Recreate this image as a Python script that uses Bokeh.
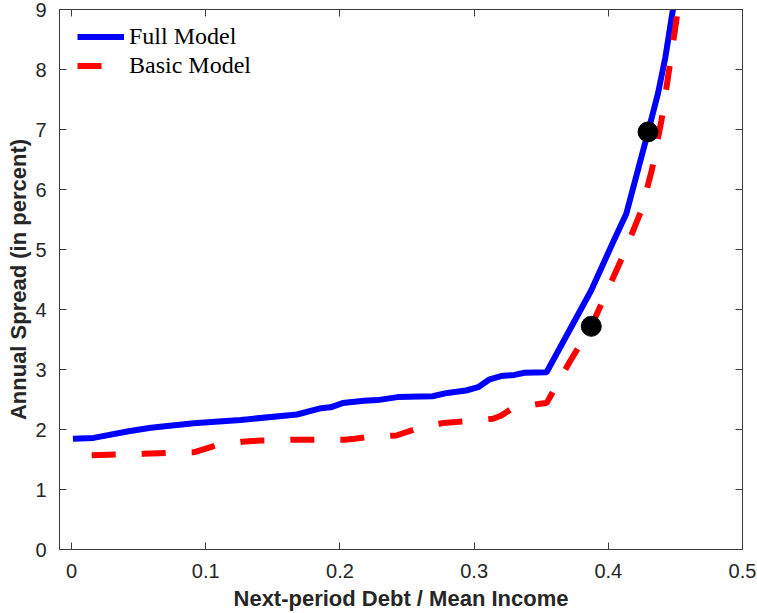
from bokeh.plotting import figure
from bokeh.models import (LinearAxis, FixedTicker, Range1d, Legend, LegendItem,
                          ColumnDataSource)
from bokeh.embed import file_html
from bokeh.resources import INLINE

# Spread schedules against next-period debt / mean income
full_debt = [0.001, 0.0164, 0.0425, 0.059, 0.091, 0.126, 0.168, 0.186, 0.193,
             0.202, 0.218, 0.228, 0.243, 0.269, 0.280, 0.294, 0.303, 0.311,
             0.320, 0.330, 0.3375, 0.354, 0.3873, 0.4035, 0.4134, 0.4296,
             0.437, 0.4425, 0.448, 0.452]
full_spread = [1.845, 1.86, 1.97, 2.03, 2.105, 2.16, 2.25, 2.355, 2.37,
               2.44, 2.48, 2.49, 2.54, 2.555, 2.61, 2.65, 2.705, 2.83,
               2.89, 2.91, 2.945, 2.955, 4.32, 5.12, 5.595, 6.96,
               7.6, 8.2, 8.98, 9.6]

basic_debt = [0.015, 0.033, 0.053, 0.071, 0.091, 0.1075, 0.127, 0.141, 0.165,
              0.203, 0.211, 0.219, 0.242, 0.257, 0.277, 0.294, 0.314, 0.320,
              0.329, 0.349, 0.354, 0.371, 0.3873, 0.396, 0.411, 0.4246,
              0.4325, 0.4396, 0.445, 0.4507, 0.454]
basic_spread = [1.572, 1.583, 1.594, 1.61, 1.62, 1.733, 1.795, 1.817, 1.83,
                1.83, 1.845, 1.87, 1.90, 2.01, 2.11, 2.14, 2.18, 2.23,
                2.36, 2.43, 2.44, 3.12, 3.72, 4.15, 4.9, 5.65,
                6.33, 7.15, 7.95, 8.82, 9.4]

# Highlighted points
dot_debt = [0.3873, 0.4296]
dot_spread = [3.72, 6.96]

x_ticks = [0, 0.1, 0.2, 0.3, 0.4, 0.5]
x_tick_labels = ["0", "0.1", "0.2", "0.3", "0.4", "0.5"]
y_ticks = [0, 1, 2, 3, 4, 5, 6, 7, 8, 9]

AXIS_COLOR = "#3a3a3a"
TICK_FONT = "Liberation Sans"

p = figure(width=757, height=613, output_backend="svg", toolbar_location=None,
           x_range=Range1d(-0.009, 0.5), y_range=Range1d(0, 9),
           min_border_left=59, min_border_right=15, min_border_top=9,
           min_border_bottom=64, x_axis_location=None, y_axis_location=None)
p.grid.visible = False
p.background_fill_color = "white"
p.border_fill_color = "white"
p.outline_line_color = AXIS_COLOR
p.outline_line_width = 1


def style_axis(ax, ticks):
    ax.ticker = FixedTicker(ticks=ticks)
    ax.major_tick_in = 7
    ax.major_tick_out = 0
    ax.minor_tick_in = 0
    ax.minor_tick_out = 0
    ax.axis_line_color = AXIS_COLOR
    ax.major_tick_line_color = AXIS_COLOR
    ax.major_label_text_font = TICK_FONT
    ax.major_label_text_font_size = "20px"
    ax.major_label_text_color = "#262626"
    ax.axis_label_text_font = TICK_FONT
    ax.axis_label_text_font_style = "bold"
    ax.axis_label_text_font_size = "22px"
    ax.axis_label_text_color = "#262626"


xb = LinearAxis(axis_label="Next-period Debt / Mean Income")
style_axis(xb, x_ticks)
xb.major_label_overrides = dict(zip(x_ticks, x_tick_labels))
xb.major_label_standoff = 14
xb.axis_label_standoff = 5
p.add_layout(xb, "below")

yl = LinearAxis(axis_label="Annual Spread (in percent)")
style_axis(yl, y_ticks)
yl.major_label_standoff = 13
yl.axis_label_standoff = 1
p.add_layout(yl, "left")

# Box axes on the top and right carry ticks only
xt = LinearAxis()
style_axis(xt, x_ticks)
xt.major_label_overrides = {t: "" for t in x_ticks}
xt.major_label_standoff = 0
p.add_layout(xt, "above")

yr = LinearAxis()
style_axis(yr, y_ticks)
yr.major_label_overrides = {t: "" for t in y_ticks}
yr.major_label_standoff = 0
p.add_layout(yr, "right")

full_src = ColumnDataSource(dict(x=full_debt, y=full_spread))
basic_src = ColumnDataSource(dict(x=basic_debt, y=basic_spread))

r_full = p.line("x", "y", source=full_src, line_color="#0000ff", line_width=6)
r_basic = p.line("x", "y", source=basic_src, line_color="#ff0000", line_width=6,
                 line_dash="24 26")
p.scatter(dot_debt, dot_spread, size=20, marker="circle",
          fill_color="black", line_color="black")

legend = Legend(items=[LegendItem(label="Full Model", renderers=[r_full]),
                       LegendItem(label="Basic Model", renderers=[r_basic])],
                location=(18, 469), orientation="vertical",
                glyph_width=47, glyph_height=29, label_height=29,
                label_standoff=5, spacing=0, padding=0, margin=0,
                border_line_color=None, background_fill_alpha=0,
                label_text_font="Liberation Serif", label_text_font_size="24px",
                label_text_color="black")
p.add_layout(legend)

open("out.html", "w").write(file_html(p, INLINE))
